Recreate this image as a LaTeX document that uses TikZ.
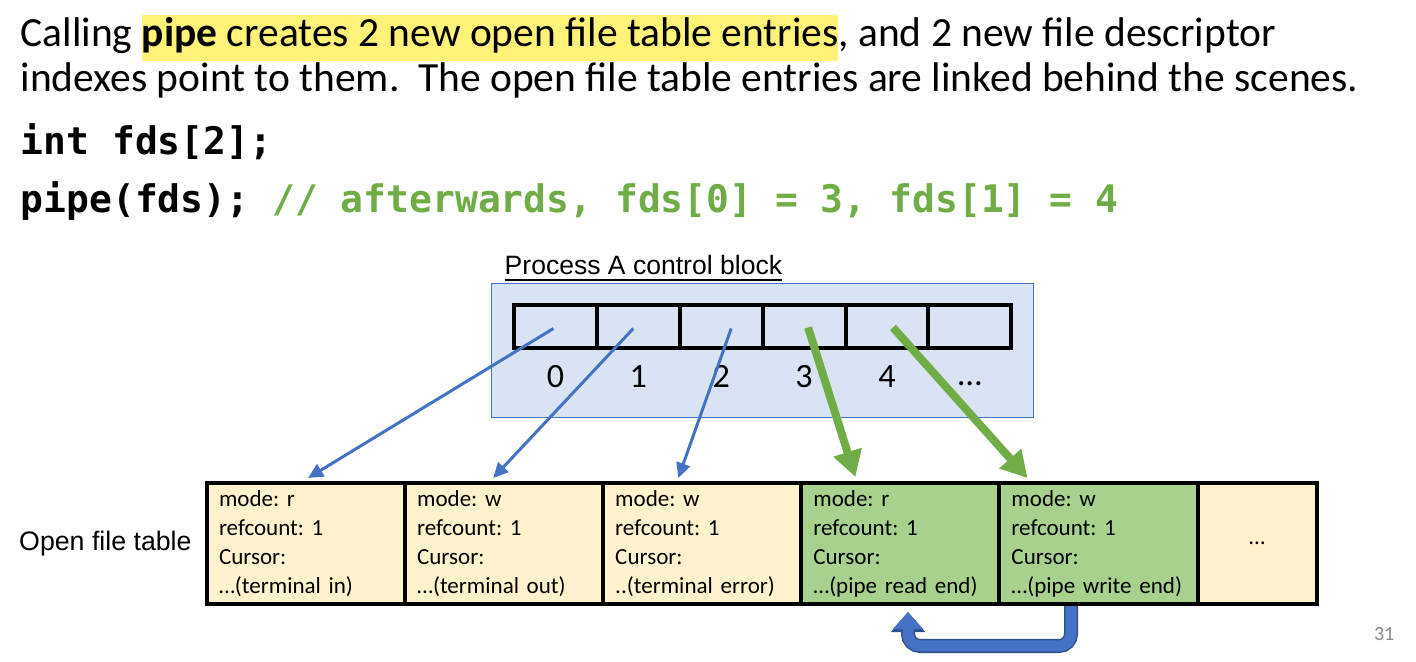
\documentclass[tikz,border=0pt]{standalone}
\usepackage{fontspec}
\setmainfont{Carlito}
\newfontfamily\arialfont{Liberation Sans}
\newfontfamily\codefont{DejaVu Sans Mono}
\usetikzlibrary{calc}
\usetikzlibrary{positioning}
\usetikzlibrary{arrows.meta}
\frenchspacing
\definecolor{hilite-yellow}{RGB}{255, 242, 120}
\definecolor{code-green}{RGB}{112, 173, 71}
\definecolor{block-blue}{RGB}{218, 227, 243}
\definecolor{arrow-blue}{RGB}{68, 114, 196}
\definecolor{link-border}{RGB}{47, 82, 143}
\definecolor{cell-yellow}{RGB}{255, 242, 204}
\definecolor{cell-green}{RGB}{169, 209, 142}
\definecolor{page-grey}{RGB}{137, 137, 137}
\tikzset{
  headline/.style={anchor=base west, inner sep=0pt, font=\fontsize{11.8}{13.1}\selectfont},
  codeline/.style={anchor=base west, inner sep=0pt, font=\codefont\bfseries\fontsize{10.8}{13}\selectfont},
  fdcell/.style={draw=black, line width=0.04cm, anchor=west, outer sep=0pt, inner sep=0pt,
    minimum width=0.8283cm, minimum height=0.43cm},
  fdlabel/.style={anchor=base, font=\fontsize{9.7}{11}\selectfont},
  filecell/.style={draw=black, line width=0.04cm, anchor=north west, outer sep=0pt,
    minimum width=1.98cm, minimum height=1.21cm, text width=1.74cm, inner xsep=0.12cm,
    inner ysep=0pt, align=left, font=\fontsize{6.55}{8.25}\selectfont},
  fdarrow/.style={draw=arrow-blue, line width=0.03cm, -{Triangle[length=0.15cm, width=0.14cm]}},
  pipearrow/.style={draw=code-green, line width=0.08cm, -{Triangle[length=0.26cm, width=0.28cm]}},
  pipelink/.style={draw=link-border, line width=0.14cm, rounded corners=0.12cm,
    -{Triangle[length=0.2cm, width=0.33cm]},
    postaction={draw=arrow-blue, line width=0.11cm, -{Triangle[length=0.17cm, width=0.29cm]}}},
}
\begin{document}
\begin{tikzpicture}[x=0.01cm, y=-0.01cm]
\fill[white] (0,0) rectangle (1416,662);
\useasboundingbox (0,0) rectangle (1416,662);

\node[headline] (head1) at (20,47) {Calling {\fboxsep=0pt\colorbox{hilite-yellow}{\strut\textbf{pipe} creates 2 new open file table entries}}, and 2 new file descriptor};
\node[headline] (head2) at (20,92) {indexes point to them.\ \ The open file table entries are linked behind the scenes.};
\node[codeline] (code1) at (20,155) {int fds[2];};
\node[codeline] (code2) at (20,213) {pipe(fds); {\color{code-green}// afterwards, fds[0] = 3, fds[1] = 4}};

% process control block
\filldraw[fill=block-blue, draw=arrow-blue, line width=0.01cm] (491,284) rectangle (1033,418);
\node[anchor=base west, inner sep=0pt, font=\arialfont\fontsize{7.55}{9}\selectfont] (pcb) at (504,275) {\underline{Process A control block}};
\node[fdcell] (c0) at (514,326.5) {};
\node[fdcell] (c1) at (c0.east) {};
\node[fdcell] (c2) at (c1.east) {};
\node[fdcell] (c3) at (c2.east) {};
\node[fdcell] (c4) at (c3.east) {};
\node[fdcell] (c5) at (c4.east) {};
\node[fdlabel] (l0) at ($(c0.south)+(0,39)$) {0};
\node[fdlabel] (l1) at ($(c1.south)+(0,39)$) {1};
\node[fdlabel] (l2) at ($(c2.south)+(0,39)$) {2};
\node[fdlabel] (l3) at ($(c3.south)+(0,39)$) {3};
\node[fdlabel] (l4) at ($(c4.south)+(0,39)$) {4};
\node[fdlabel] (l5) at ($(c5.south)+(0,37)$) {…};

% link between the two pipe ends
\coordinate (s4) at (1071,606);
\coordinate (s3) at (908,612);
\draw[pipelink] (s4) |- ($(s3)+(0,34)$) -- (s3);

% open file table
\node[filecell, fill=cell-yellow] (t0) at (207,483) {mode: r\\refcount: 1\\Cursor:\\…(terminal in)};
\node[filecell, fill=cell-yellow] (t1) at (t0.north east) {mode: w\\refcount: 1\\Cursor:\\…(terminal out)};
\node[filecell, fill=cell-yellow] (t2) at (t1.north east) {mode: w\\refcount: 1\\Cursor:\\..(terminal error)};
\node[filecell, fill=cell-green] (t3) at (t2.north east) {mode: r\\refcount: 1\\Cursor:\\…(pipe read end)};
\node[filecell, fill=cell-green] (t4) at (t3.north east) {mode: w\\refcount: 1\\Cursor:\\…(pipe write end)};
\node[filecell, fill=cell-yellow, minimum width=1.19cm, text width=0.95cm, align=center] (t5) at (t4.north east) {…};
\node[left=0.03cm of t0, font=\arialfont\fontsize{7.6}{9}\selectfont] (oft) {Open file table};

\draw[fdarrow] ($(c0.center)+(-2,2)$) -- ($(t0.north)+(2,-5)$);
\draw[fdarrow] ($(c1.center)+(-5,2)$) -- ($(t1.north)+(-11,-5)$);
\draw[fdarrow] ($(c2.center)+(10,2)$) -- ($(t2.north)+(-24,-5)$);
\draw[pipearrow] ($(c3.center)+(4,1)$) -- ($(t3.north)+(-45,-6)$);
\draw[pipearrow] ($(c4.center)+(6,1)$) -- ($(t4.north)+(-71,-5)$);

\node[anchor=base east, inner sep=0pt, text=page-grey, font=\fontsize{5.7}{7}\selectfont] (page) at (1395,641) {31};
\end{tikzpicture}
\end{document}
